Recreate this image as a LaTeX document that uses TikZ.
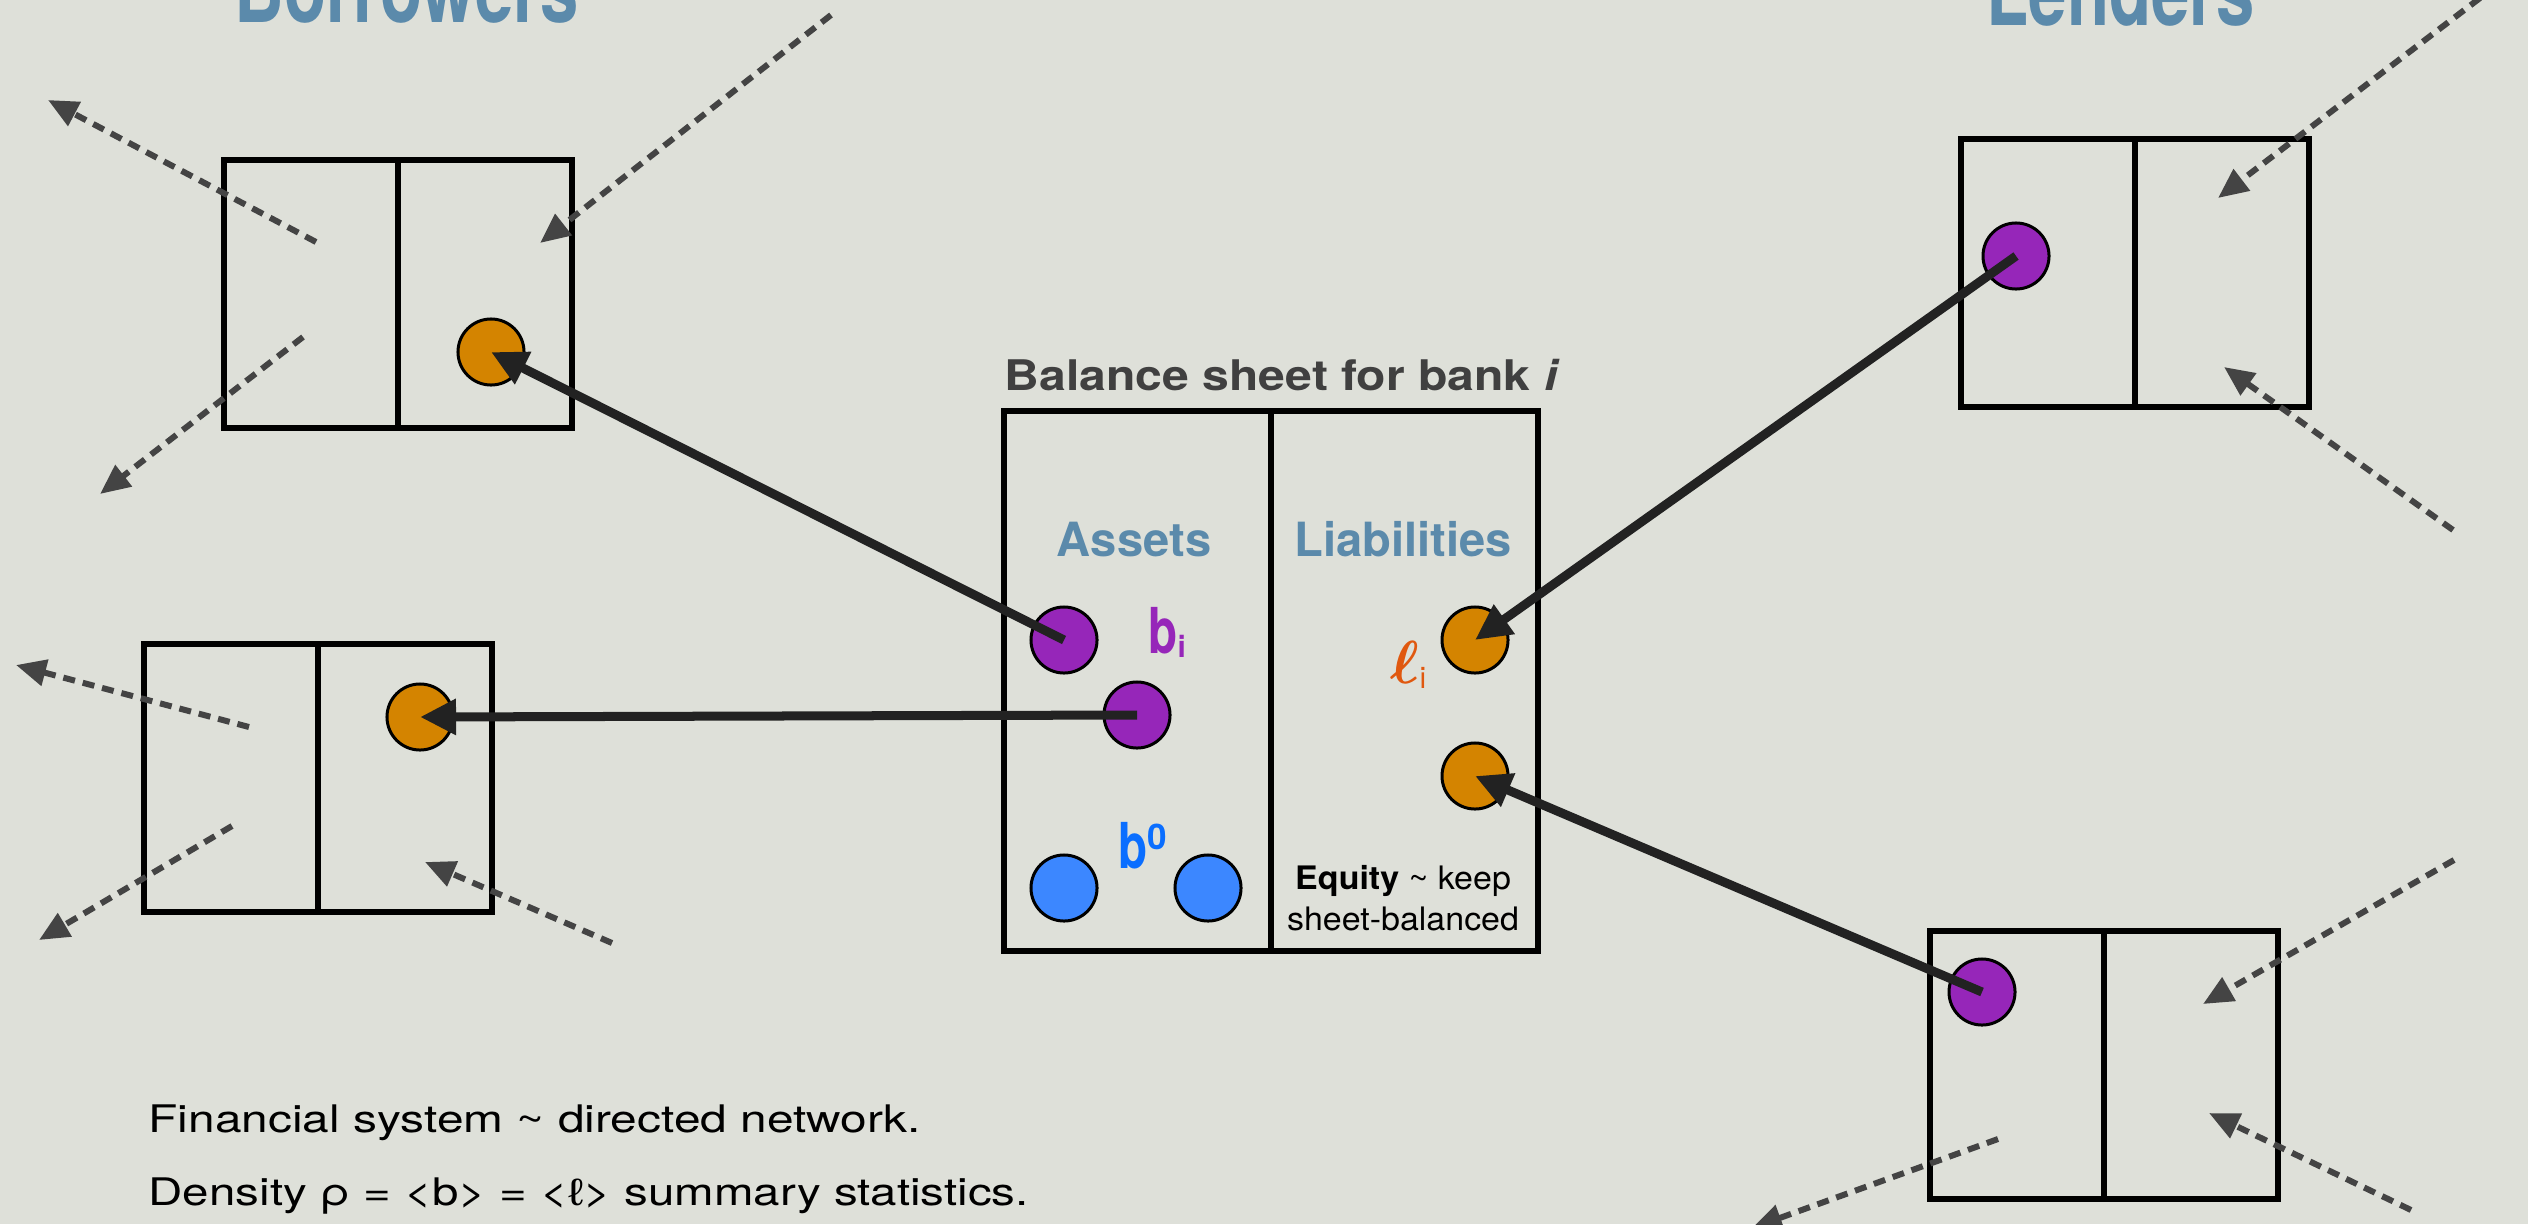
\documentclass[tikz,border=0pt]{standalone}
\usepackage{fontspec}
\setmainfont{TeX Gyre Heros}
\newfontfamily\libsans{Liberation Sans}
\usetikzlibrary{arrows.meta}
\definecolor{bg}{RGB}{222,224,217}
\definecolor{headblue}{RGB}{91,138,171}
\definecolor{titlegray}{RGB}{64,64,64}
\definecolor{ppl}{RGB}{150,38,185}
\definecolor{org}{RGB}{212,132,0}
\definecolor{cblue}{RGB}{60,135,255}
\definecolor{lblue}{RGB}{10,110,255}
\definecolor{lorange}{RGB}{224,88,15}
\definecolor{arrowgray}{RGB}{68,68,68}
\definecolor{solidblack}{RGB}{34,34,34}
\begin{document}
\begin{tikzpicture}[x=0.01cm,y=-0.01cm,
  sheet/.style={draw=black, line width=0.06cm, minimum width=3.47cm, minimum height=2.67cm, inner sep=0pt},
  bankbox/.style={draw=black, line width=0.06cm, minimum width=5.34cm, minimum height=5.39cm, inner sep=0pt},
  divider/.style={draw=black, line width=0.06cm},
  ball/.style={circle, draw=black, line width=0.03cm, minimum size=0.66cm, inner sep=0pt},
  loan/.style={draw=solidblack, line width=0.09cm, -{Triangle[length=0.36cm,width=0.34cm]}},
  flow/.style={draw=arrowgray, line width=0.06cm, dash pattern=on 0.12cm off 0.08cm, -{Triangle[length=0.3cm,width=0.26cm]}},
  grouptitle/.style={font=\fontsize{28}{30}\selectfont\bfseries, text=headblue, inner sep=0pt, anchor=base},
  colhead/.style={font=\fontsize{13.4}{15}\selectfont\bfseries, text=headblue, inner sep=0pt, anchor=base},
  small/.style={font=\fontsize{9.2}{12}\selectfont, inner sep=0pt, anchor=base},
  caption/.style={font=\fontsize{10.8}{12}\selectfont, inner sep=0pt, anchor=base west}
]
\useasboundingbox (0,0) rectangle (2528,1224);
\clip (0,0) rectangle (2528,1224);
\fill[bg] (0,0) rectangle (2528,1224);

% balance sheet boxes
\node[sheet] (sb1) at (398,294) {};
\draw[divider] (sb1.north) -- (sb1.south);
\node[sheet] (sb2) at (318,778) {};
\draw[divider] (sb2.north) -- (sb2.south);
\node[sheet] (sl1) at (2135,273) {};
\draw[divider] (sl1.north) -- (sl1.south);
\node[sheet] (sl2) at (2104,1065) {};
\draw[divider] (sl2.north) -- (sl2.south);
\node[bankbox] (bank) at (1271,681) {};
\draw[divider] (bank.north) -- (bank.south);

% titles
\node[grouptitle] (tborrow) at (407,22) {\scalebox{0.7}[1]{Borrowers}};
\node[grouptitle] (tlend) at (2121,25) {\scalebox{0.7}[1]{Lenders}};
\node[anchor=base west, inner sep=0pt, font=\fontsize{12}{14}\selectfont\bfseries, text=titlegray] (tbank) at (1004,390) {\scalebox{1.14}[1]{Balance sheet for bank \textit{i}}};
\node[colhead] (hassets) at (1134,556) {Assets};
\node[colhead] (hliab) at (1403,556) {Liabilities};

% circles
\node[ball, fill=org] (bo1) at (491,352) {};
\node[ball, fill=org] (bo2) at (420,717) {};
\node[ball, fill=ppl] (ip1) at (1064,640) {};
\node[ball, fill=ppl] (ip2) at (1137,715) {};
\node[ball, fill=cblue] (ib1) at (1064,888) {};
\node[ball, fill=cblue] (ib2) at (1208,888) {};
\node[ball, fill=org] (io1) at (1475,640) {};
\node[ball, fill=org] (io2) at (1475,776) {};
\node[ball, fill=ppl] (lp1) at (2016,256) {};
\node[ball, fill=ppl] (lp2) at (1982,992) {};

% labels in bank
\node[anchor=base west, inner sep=0pt, text=ppl, font=\fontsize{18}{20}\selectfont\bfseries] (lbi) at (1148,653) {\scalebox{0.75}[1]{b}\raisebox{-0.04cm}{\fontsize{8.5}{10}\selectfont i}};
\node[anchor=base west, inner sep=0pt, text=lblue, font=\fontsize{18}{20}\selectfont\bfseries] (lb0) at (1118,868) {\scalebox{0.75}[1]{b}\raisebox{0.19cm}{\fontsize{10}{12}\selectfont 0}};
\node[anchor=base west, inner sep=0pt, text=lorange] (lli) at (1390,683) {\fontsize{18.5}{20}\selectfont{\boldmath$\ell$}\raisebox{-0.05cm}{\fontsize{8.5}{10}\selectfont i}};
\node[small] (eq1) at (1403,889) {\scalebox{1.05}[1]{\textbf{Equity} \textasciitilde{} keep}};
\node[small] (eq2) at (1403,930) {\scalebox{1.05}[1]{sheet-balanced}};

% loans
\draw[loan] (ip1.center) -- (bo1.center);
\draw[loan] (ip2.center) -- (bo2.center);
\draw[loan] (lp1.center) -- (io1.center);
\draw[loan] (lp2.center) -- (io2.center);

% other flows
\coordinate (a1s) at (316,242); \coordinate (a1e) at (48,100);
\coordinate (a2s) at (303,337); \coordinate (a2e) at (100,494);
\coordinate (a3s) at (831,15);  \coordinate (a3e) at (540,243);
\coordinate (a4s) at (249,727); \coordinate (a4e) at (16,665);
\coordinate (a5s) at (232,826); \coordinate (a5e) at (39,940);
\coordinate (a6s) at (612,943); \coordinate (a6e) at (425,862);
\coordinate (a7s) at (2480,-2); \coordinate (a7e) at (2218,198);
\coordinate (a8s) at (2453,530); \coordinate (a8e) at (2224,367);
\coordinate (a9s) at (2454,860); \coordinate (a9e) at (2203,1004);
\coordinate (a10s) at (2411,1210); \coordinate (a10e) at (2209,1113);
\coordinate (a11s) at (1998,1139); \coordinate (a11e) at (1752,1228);
\foreach \k in {1,...,11} {\draw[flow] (a\k s) -- (a\k e);}

% caption
\node[caption] (c1) at (148,1132) {\scalebox{1.26}[1]{Financial system \textasciitilde{} directed network.}};
\node[caption] (c2) at (148,1205) {\scalebox{1.25}[1]{Density ρ = <b> = <{\libsans ℓ}> summary statistics.}};
\end{tikzpicture}
\end{document}
